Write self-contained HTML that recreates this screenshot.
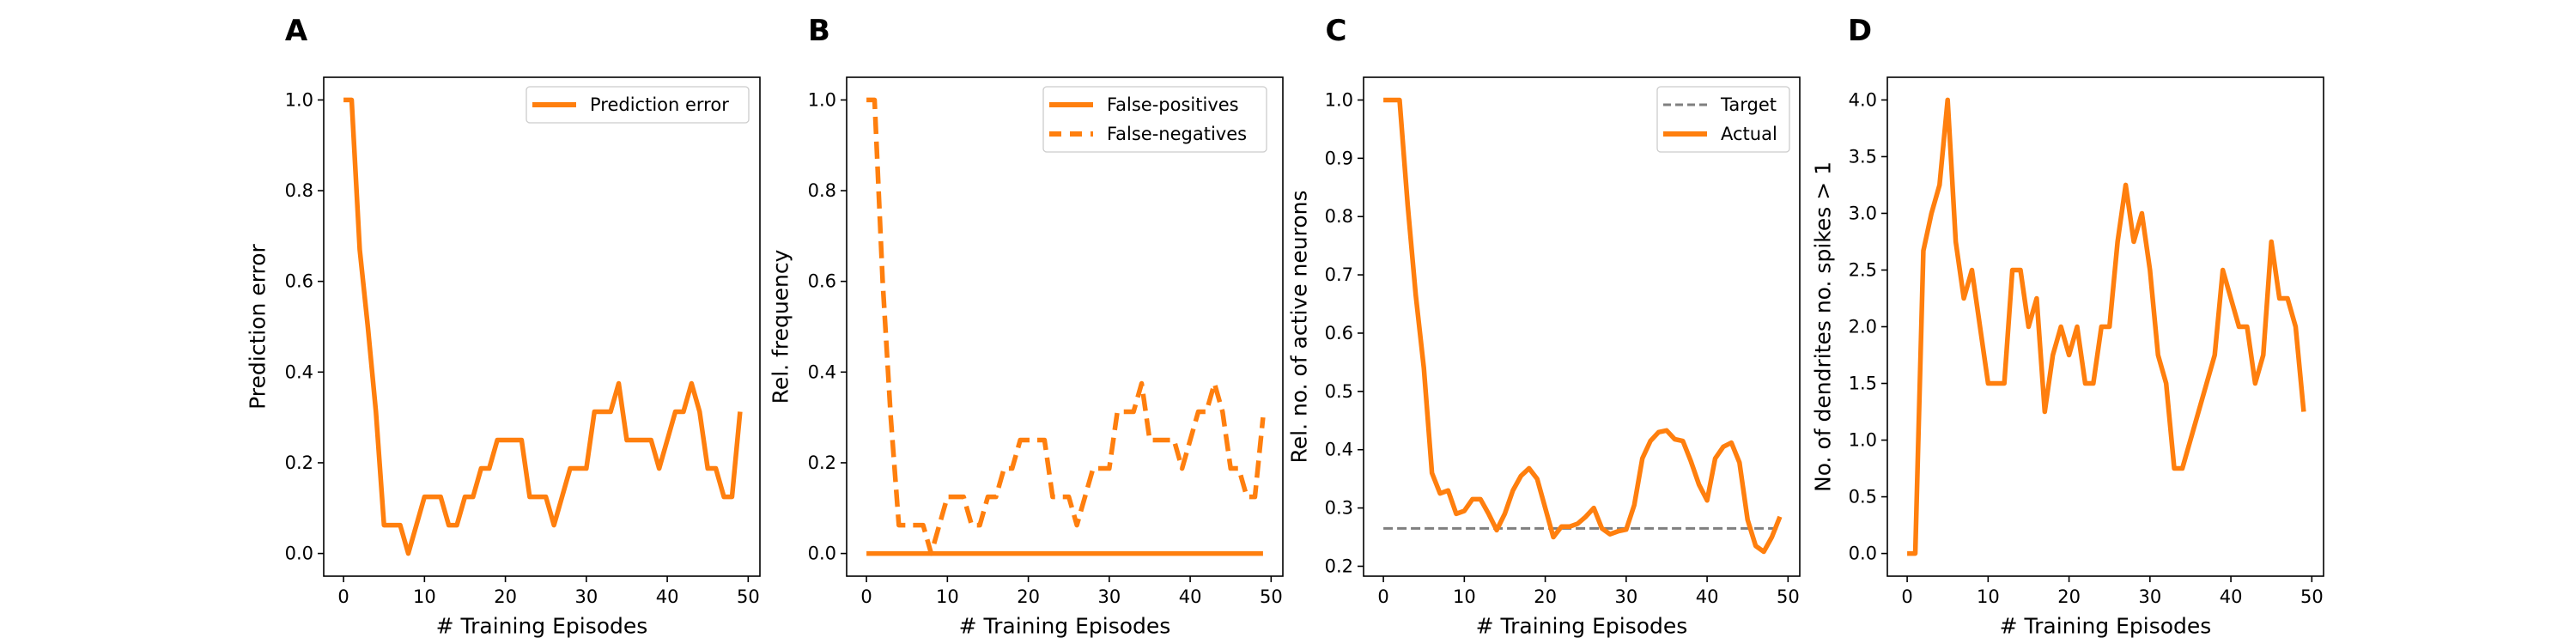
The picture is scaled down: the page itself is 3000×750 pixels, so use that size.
<!DOCTYPE html>
<html><head><meta charset="utf-8"><style>
html,body{margin:0;padding:0;background:#fff;}
svg{display:block;font-family:"DejaVu Sans","Liberation Sans",sans-serif;}
</style></head><body>
<svg id="fig" width="3000" height="750" viewBox="0 0 3000 750" xmlns="http://www.w3.org/2000/svg"></svg>
<script>
const episodes = Array.from({length:50},(_, i)=>i);
const predError = [1,1,0.67,0.5,0.3125,0.0625,0.0625,0.0625,0,0.0625,0.125,0.125,0.125,0.0625,0.0625,0.125,0.125,0.1875,0.1875,0.25,0.25,0.25,0.25,0.125,0.125,0.125,0.0625,0.125,0.1875,0.1875,0.1875,0.3125,0.3125,0.3125,0.375,0.25,0.25,0.25,0.25,0.1875,0.25,0.3125,0.3125,0.375,0.3125,0.1875,0.1875,0.125,0.125,0.3125];
const falsePos = new Array(50).fill(0);
const falseNeg = [1,1,0.6,0.3,0.0625,0.0625,0.0625,0.0625,0,0.0625,0.125,0.125,0.125,0.0625,0.0625,0.125,0.125,0.1875,0.1875,0.25,0.25,0.25,0.25,0.125,0.125,0.125,0.0625,0.125,0.1875,0.1875,0.1875,0.3125,0.3125,0.3125,0.375,0.25,0.25,0.25,0.25,0.1875,0.25,0.3125,0.3125,0.375,0.3125,0.1875,0.1875,0.125,0.125,0.3];
const actualActive = [1,1,1,0.82,0.665,0.54,0.36,0.325,0.33,0.29,0.295,0.315,0.315,0.29,0.262,0.29,0.33,0.355,0.368,0.35,0.30,0.25,0.268,0.268,0.273,0.285,0.30,0.265,0.255,0.26,0.263,0.305,0.385,0.415,0.43,0.433,0.418,0.415,0.38,0.34,0.313,0.385,0.405,0.412,0.378,0.28,0.235,0.225,0.25,0.285];
const targetActive = 0.265;
const dendrites = [0,0,2.67,3.0,3.25,4.0,2.75,2.25,2.5,2.0,1.5,1.5,1.5,2.5,2.5,2.0,2.25,1.25,1.75,2.0,1.75,2.0,1.5,1.5,2.0,2.0,2.75,3.25,2.75,3.0,2.5,1.75,1.5,0.75,0.75,1.0,1.25,1.5,1.75,2.5,2.25,2.0,2.0,1.5,1.75,2.75,2.25,2.25,2.0,1.25];
const xTicks = [0,10,20,30,40,50];
const yTicksA = [0.0,0.2,0.4,0.6,0.8,1.0];
const yTicksC = [0.2,0.3,0.4,0.5,0.6,0.7,0.8,0.9,1.0];
const yTicksD = [0.0,0.5,1.0,1.5,2.0,2.5,3.0,3.5,4.0];

const NS="http://www.w3.org/2000/svg";
const svg=document.getElementById('fig');
const OR="#ff7f0e";
function mk(tag,attrs,parent){const e=document.createElementNS(NS,tag);for(const k in attrs)e.setAttribute(k,attrs[k]);(parent||svg).appendChild(e);return e;}

function panel(cfg){
  const L=cfg.left,R=L+508,T=90,B=671;
  const g=mk('g',{});
  
  
  const xs=v=>L+(v+2.45)/53.9*508;
  const ys=v=>B-(v-cfg.ymin)/(cfg.ymax-cfg.ymin)*(B-T);
  // letter
  const lt=mk('text',{x:L-32,y:36,'font-size':34,'font-weight':'bold','text-anchor':'middle','dominant-baseline':'central'},g);
  lt.textContent=cfg.letter;
  
  
  // x ticks
  xTicks.forEach(t=>{
    const x=xs(t);
    mk('line',{x1:x,x2:x,y1:B,y2:B+7,stroke:'#000','stroke-width':1.6},g);
    const tx=mk('text',{x:x,y:695,'font-size':21,'text-anchor':'middle','dominant-baseline':'central'},g);
    tx.textContent=String(t);
    
    
  });
  cfg.yticks.forEach(t=>{
    const y=ys(t);
    mk('line',{x1:L-7,x2:L,y1:y,y2:y,stroke:'#000','stroke-width':1.6},g);
    const ty=mk('text',{x:L-12,y:y,'font-size':21,'text-anchor':'end','dominant-baseline':'central'},g);
    ty.textContent=t.toFixed(1);
    
    
  });
  const xl=mk('text',{x:(L+R)/2,y:729,'font-size':25,'text-anchor':'middle','dominant-baseline':'central'},g);
  xl.textContent='# Training Episodes';
  
  
  const yl=mk('text',{x:0,y:0,'font-size':25,'text-anchor':'middle','dominant-baseline':'central',transform:`translate(${cfg.ylx},${(T+B)/2}) rotate(-90)`},g);
  yl.textContent=cfg.ylabel;
  
  
  // series
  cfg.series.forEach(s=>{
    let d='';
    s.data.forEach((v,i)=>{d+=(i?'L':'M')+xs(episodes[i]).toFixed(2)+','+ys(v).toFixed(2);});
    const p=mk('path',{d:d,fill:'none',stroke:s.color,'stroke-width':s.w,'stroke-linejoin':'round','stroke-dasharray':s.dash||'none'},g);
    
    
  });
  mk('rect',{x:L,y:T,width:R-L,height:B-T,fill:'none',stroke:'#000','stroke-width':1.6},g);
  // legend
  const lg=cfg.legend;
  const lgG=mk('g',{},g);
  
  
  mk('rect',{x:lg.x,y:101,width:lg.w,height:lg.entries.length===1?42:76,rx:4,fill:'#fff','fill-opacity':0.8,stroke:'#ccc','stroke-width':1.3},lgG);
  lg.entries.forEach((e,i)=>{
    const y=122+i*34;
    const ln=mk('line',{x1:lg.x+7,x2:lg.x+58,y1:y,y2:y,stroke:e.color,'stroke-width':e.w,'stroke-dasharray':e.dash||'none'},lgG);
    
    
    const t=mk('text',{x:lg.x+74,y:y,'font-size':21,'dominant-baseline':'central'},lgG);
    t.textContent=e.label;
    
    
  });
}

panel({name:'panel-a',letter:'A',left:377,ymin:-0.05,ymax:1.05,yticks:yTicksA,ylabel:'Prediction error',ylx:300,
  series:[{name:'prediction-error-line',data:predError,color:OR,w:5.5}],
  legend:{x:613,w:259,entries:[{label:'Prediction error',color:OR,w:6}]}});
panel({name:'panel-b',letter:'B',left:986,ymin:-0.05,ymax:1.05,yticks:yTicksA,ylabel:'Rel. frequency',ylx:909,
  series:[{name:'false-positives-line',data:falsePos,color:OR,w:5.5},{name:'false-negatives-line',data:falseNeg,color:OR,w:5.5,dash:'20 9'}],
  legend:{x:1215,w:260,entries:[{label:'False-positives',color:OR,w:6},{label:'False-negatives',color:OR,w:6,dash:'14 10'}]}});
panel({name:'panel-c',letter:'C',left:1588,ymin:0.183,ymax:1.039,yticks:yTicksC,ylabel:'Rel. no. of active neurons',ylx:1513,
  series:[{name:'target-line',data:new Array(50).fill(targetActive),color:'#7f7f7f',w:3,dash:'11 5'},{name:'actual-line',data:actualActive,color:OR,w:5.5}],
  legend:{x:1930,w:154,entries:[{label:'Target',color:'#7f7f7f',w:3,dash:'9 5'},{label:'Actual',color:OR,w:6}]}});
panel({name:'panel-d',letter:'D',left:2198,ymin:-0.2,ymax:4.2,yticks:yTicksD,ylabel:'No. of dendrites no. spikes > 1',ylx:2123,
  series:[{name:'dendrites-line',data:dendrites,color:OR,w:5.5}],
  legend:{x:-1000,w:0,entries:[]}});
</script>
</body></html>
